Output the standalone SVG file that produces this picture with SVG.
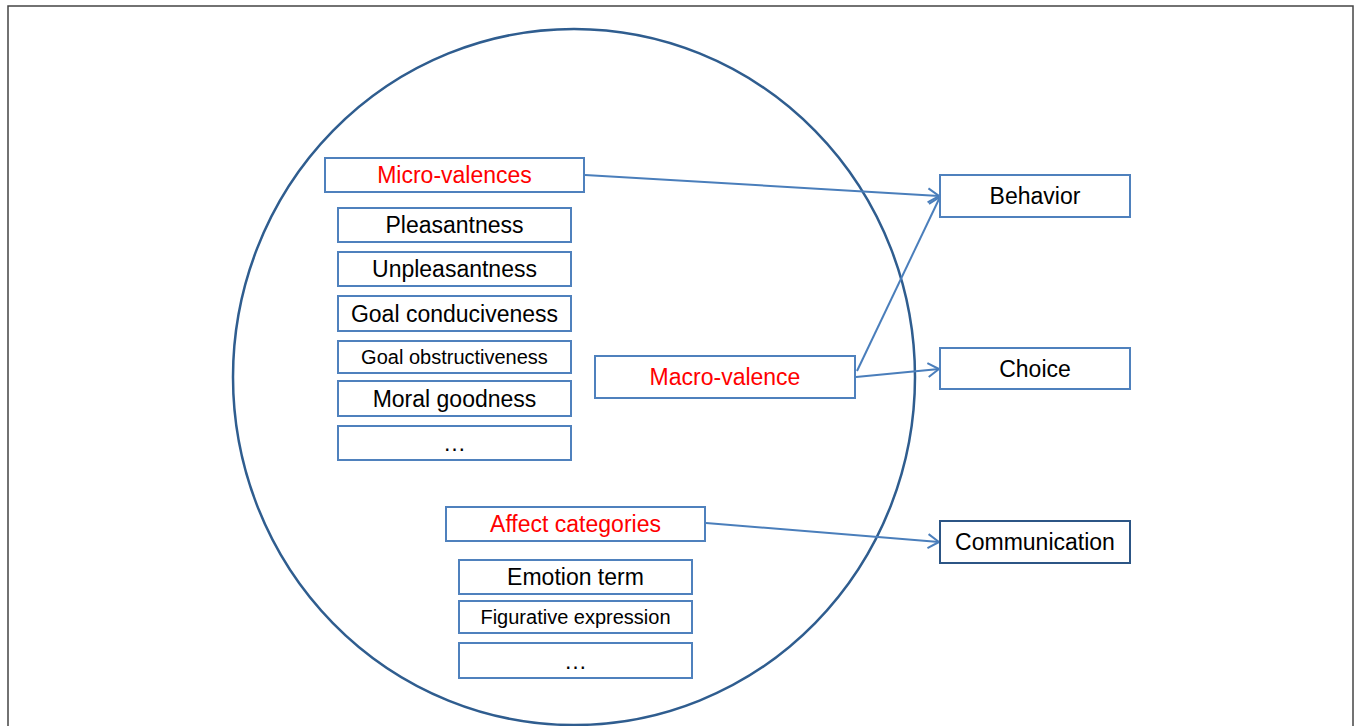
<svg xmlns="http://www.w3.org/2000/svg" width="1356" height="726" viewBox="0 0 1356 726">
<style>
.box{fill:#fff;stroke:#4f81bd;stroke-width:2}
.dark{fill:#fff;stroke:#2c5585;stroke-width:2}
.t{font-family:"Liberation Sans",Arial,sans-serif;font-size:23px;fill:#000;text-anchor:middle;dominant-baseline:central}
.s{font-size:20px}
.r{fill:#ff0000}
.conn{fill:none;stroke:#4a7ebb;stroke-width:2;marker-end:url(#arr)}
</style>
<defs>
<marker id="arr" markerUnits="userSpaceOnUse" markerWidth="14" markerHeight="16" refX="12" refY="8" orient="auto" viewBox="0 0 14 16">
<path d="M1,1 L12,8 L1,15" fill="none" stroke="#4a7ebb" stroke-width="2"/>
</marker>
</defs>
<rect width="1356" height="726" fill="#fff"/>
<rect x="8" y="6" width="1345" height="740" fill="none" stroke="#444" stroke-width="1.5"/>
<ellipse id="circle" cx="574" cy="377" rx="341" ry="348" fill="none" stroke="#2f5d8f" stroke-width="2.5"/>
<g id="connectors">
<line class="conn" x1="585" y1="175" x2="939" y2="196"/>
<line class="conn" x1="857" y1="371" x2="940" y2="197"/>
<line class="conn" x1="856" y1="377" x2="939" y2="369"/>
<line class="conn" x1="706" y1="523" x2="939" y2="542"/>
</g>
<g id="micro-valences"><rect class="box" x="325" y="158" width="259" height="34"/><text class="t r" x="454.5" y="175">Micro-valences</text></g>
<g id="pleasantness"><rect class="box" x="338" y="208" width="233" height="34"/><text class="t" x="454.5" y="225">Pleasantness</text></g>
<g id="unpleasantness"><rect class="box" x="338" y="252" width="233" height="34"/><text class="t" x="454.5" y="269">Unpleasantness</text></g>
<g id="goal-conduciveness"><rect class="box" x="338" y="296" width="233" height="35"/><text class="t" x="454.5" y="313.5">Goal conduciveness</text></g>
<g id="goal-obstructiveness"><rect class="box" x="338" y="341" width="233" height="32"/><text class="t s" x="454.5" y="357">Goal obstructiveness</text></g>
<g id="moral-goodness"><rect class="box" x="338" y="381" width="233" height="35"/><text class="t" x="454.5" y="398.5">Moral goodness</text></g>
<g id="micro-more"><rect class="box" x="338" y="426" width="233" height="34"/><text class="t" x="454.5" y="443">…</text></g>
<g id="macro-valence"><rect class="box" x="595" y="356" width="260" height="42"/><text class="t r" x="725" y="377">Macro-valence</text></g>
<g id="behavior"><rect class="box" x="940" y="175" width="190" height="42"/><text class="t" x="1035" y="196">Behavior</text></g>
<g id="choice"><rect class="box" x="940" y="348" width="190" height="41"/><text class="t" x="1035" y="368.5">Choice</text></g>
<g id="communication"><rect class="dark" x="940" y="521" width="190" height="42"/><text class="t" x="1035" y="542">Communication</text></g>
<g id="affect-categories"><rect class="box" x="446" y="507" width="259" height="34"/><text class="t r" x="575.5" y="524">Affect categories</text></g>
<g id="emotion-term"><rect class="box" x="459" y="560" width="233" height="34"/><text class="t" x="575.5" y="577">Emotion term</text></g>
<g id="figurative-expression"><rect class="box" x="459" y="601" width="233" height="32"/><text class="t s" x="575.5" y="617">Figurative expression</text></g>
<g id="affect-more"><rect class="box" x="459" y="643" width="233" height="35"/><text class="t" x="575.5" y="660.5">…</text></g>
</svg>
